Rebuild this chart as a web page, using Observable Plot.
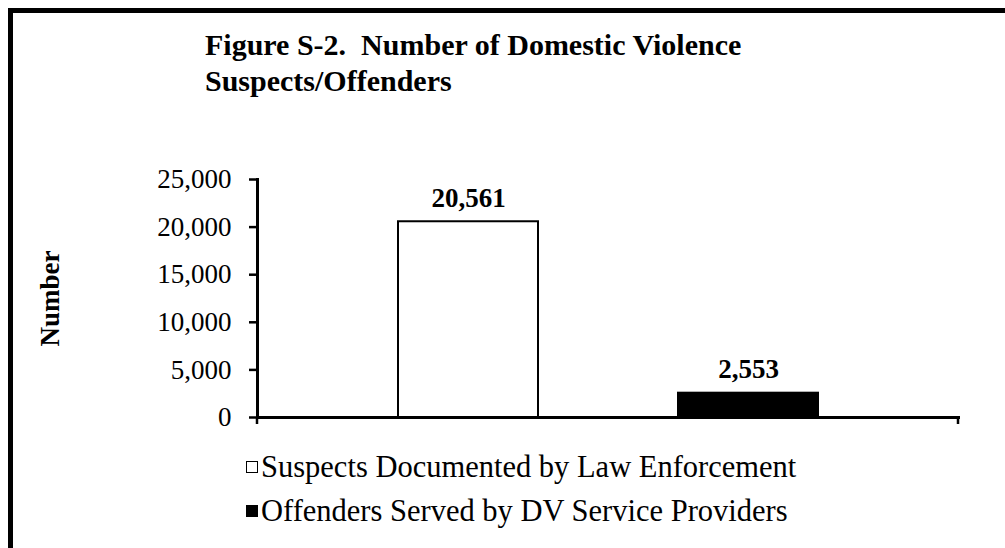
<!DOCTYPE html>
<html>
<head>
<meta charset="utf-8">
<script src="https://cdn.jsdelivr.net/npm/d3@7"></script>
<script src="https://cdn.jsdelivr.net/npm/@observablehq/plot@0.6"></script>
<style>
  html, body { margin: 0; padding: 0; background: #fff; }
  #wrap { position: relative; width: 1005px; height: 548px; overflow: hidden; font-family: "Liberation Serif", "Times New Roman", serif; color: #000; }
  #frame { position: absolute; left: 8px; top: 8px; width: 1100px; height: 700px; border-left: 5px solid #000; border-top: 5px solid #000; box-sizing: border-box; }
  #title { position: absolute; left: 205px; top: 27px; font-weight: bold; font-size: 30px; line-height: 36px; white-space: pre; }
  #chart { position: absolute; left: 0; top: 150px; }
  #legend { position: absolute; left: 246px; top: 445px; font-size: 30.5px; line-height: 44px; }
  .item { display: flex; align-items: center; white-space: nowrap; }
  .sw { width: 12px; height: 12px; box-sizing: border-box; border: 1.5px solid #000; margin-right: 3px; }
</style>
</head>
<body>
<div id="wrap">
  <div id="frame"></div>
  <div id="title"></div>
  <div id="chart"></div>
  <div id="legend"></div>
</div>
<script>
const titleLines = ["Figure S-2.  Number of Domestic Violence", "Suspects/Offenders"];
const series = ["Suspects Documented by Law Enforcement", "Offenders Served by DV Service Providers"];
const values = [20561, 2553];
const fills = ["#ffffff", "#000000"];
const yTicks = [0, 5000, 10000, 15000, 20000, 25000];
const yLabel = "Number";

document.getElementById("title").textContent = titleLines.join("\n");

const data = series.map((s, i) => ({series: s, value: values[i], fill: fills[i]}));
const fmt = d3.format(",");

const plot = Plot.plot({
  width: 1005,
  height: 290,
  marginLeft: 257,
  marginRight: 47,
  marginTop: 29,
  marginBottom: 23,
  style: {fontFamily: "'Liberation Serif', 'Times New Roman', serif", background: "transparent", color: "#000"},
  x: {domain: series, paddingInner: 0.5, paddingOuter: 0.5, axis: null},
  y: {domain: [0, 25000], axis: null},
  marks: [
    Plot.barY(data, {x: "series", y: "value", fill: "fill", stroke: "#000", strokeWidth: 2}),
    Plot.axisY({ticks: yTicks, tickFormat: fmt, tickSize: 8, tickPadding: 18, strokeWidth: 2.5, fontSize: 27, label: null}),
    Plot.text(data, {x: "series", y: "value", text: d => fmt(d.value), dy: -15, lineAnchor: "bottom", fontWeight: "bold", fontSize: 27}),
    Plot.text([yLabel], {frameAnchor: "left", rotate: -90, dx: -207, textAnchor: "middle", fontWeight: "bold", fontSize: 27}),
    Plot.frame({anchor: "left", strokeWidth: 3}),
    Plot.frame({anchor: "bottom", strokeWidth: 3})
  ]
});
document.getElementById("chart").appendChild(plot);

// end ticks of the category axis, placed from the plot's own scales
const xr = plot.scale("x").range;
const y0 = plot.scale("y").apply(0);
d3.select(plot).append("g").selectAll("line").data(xr).join("line")
  .attr("x1", d => d).attr("x2", d => d)
  .attr("y1", y0).attr("y2", y0 + 7)
  .attr("stroke", "#000").attr("stroke-width", 2.5);

const legend = d3.select("#legend");
series.forEach((s, i) => {
  const it = legend.append("div").attr("class", "item");
  it.append("div").attr("class", "sw").style("background", fills[i]);
  it.append("span").text(s);
});
</script>
</body>
</html>
